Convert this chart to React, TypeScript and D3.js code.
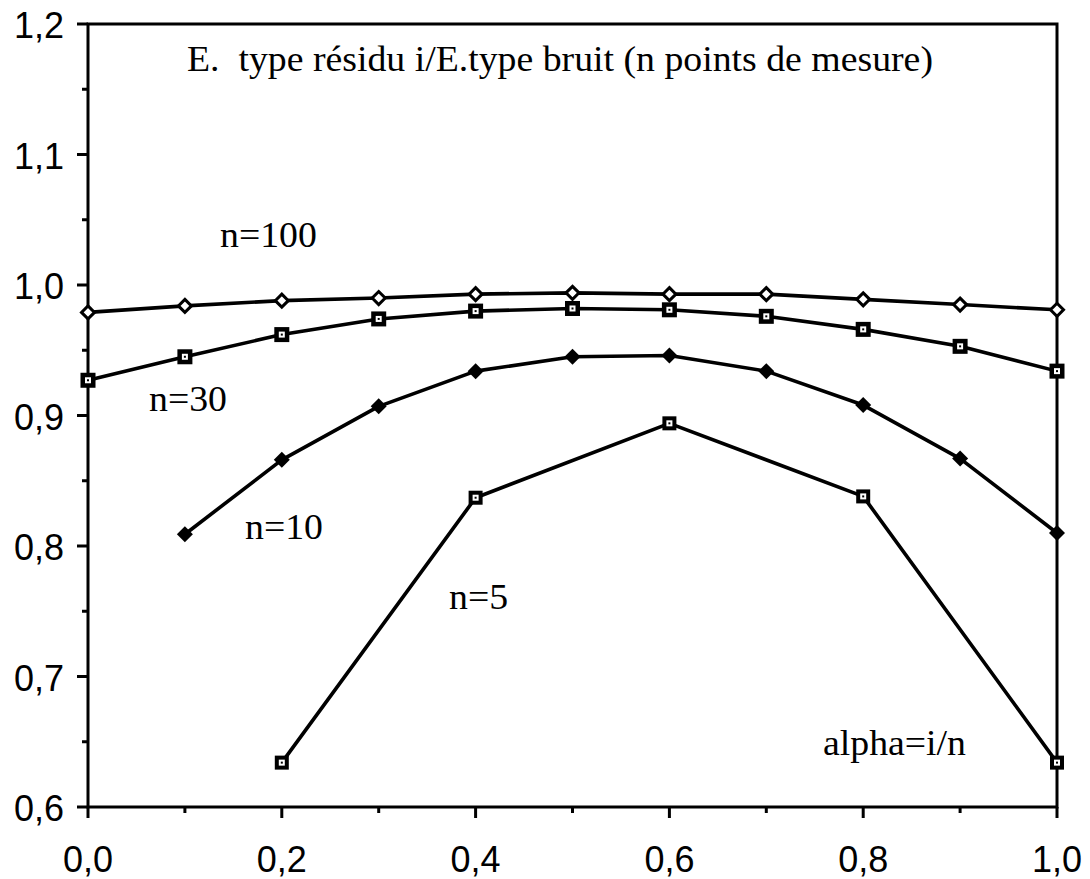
import { useEffect, useRef } from "react"
import * as d3 from "d3"

// alpha = i/n positions
const alpha = [0, 0.1, 0.2, 0.3, 0.4, 0.5, 0.6, 0.7, 0.8, 0.9, 1.0]
const alpha5 = [0.2, 0.4, 0.6, 0.8, 1.0]

const n100 = [0.979, 0.984, 0.988, 0.990, 0.993, 0.994, 0.993, 0.993, 0.989, 0.985, 0.981]
const n30 = [0.927, 0.945, 0.962, 0.974, 0.980, 0.982, 0.981, 0.976, 0.966, 0.953, 0.934]
const n10 = [null, 0.809, 0.866, 0.907, 0.934, 0.945, 0.946, 0.934, 0.908, 0.867, 0.810]
const n5 = [0.634, 0.837, 0.894, 0.838, 0.634]

const xTickLabels = ["0,0", "0,2", "0,4", "0,6", "0,8", "1,0"]
const yTickLabels = ["0,6", "0,7", "0,8", "0,9", "1,0", "1,1", "1,2"]

const title = "E.  type résidu i/E.type bruit (n points de mesure)"

type Pt = { x: number; y: number }

export default function App() {
  const svgRef = useRef<SVGSVGElement>(null)

  useEffect(() => {
    if (!svgRef.current) return
    const svg = d3.select(svgRef.current)
    svg.selectAll("*").remove()

    const xScale = d3.scaleLinear().domain([0, 1]).range([88, 1057])
    const yScale = d3.scaleLinear().domain([0.6, 1.2]).range([807, 24])

    const serif = "'Liberation Serif', 'Times New Roman', serif"
    const sans = "'Liberation Sans', Arial, sans-serif"

    // frame
    svg
      .append("rect")
      .attr("x", xScale(0))
      .attr("y", yScale(1.2))
      .attr("width", xScale(1) - xScale(0))
      .attr("height", yScale(0.6) - yScale(1.2))
      .attr("fill", "none")
      .attr("stroke", "#000")
      .attr("stroke-width", 3)

    // y ticks
    const yTicks = d3.range(0, 13).map((i) => 0.6 + i * 0.05)
    svg
      .append("g")
      .selectAll("line")
      .data(yTicks)
      .enter()
      .append("line")
      .attr("x1", (d, i) => xScale(0) - (i % 2 === 0 ? 11 : 6))
      .attr("x2", xScale(0))
      .attr("y1", (d) => yScale(d))
      .attr("y2", (d) => yScale(d))
      .attr("stroke", "#000")
      .attr("stroke-width", 3)

    svg
      .append("g")
      .selectAll("text")
      .data(yTickLabels)
      .enter()
      .append("text")
      .attr("x", 64)
      .attr("y", (d, i) => yScale(0.6 + i * 0.1) + 14)
      .attr("text-anchor", "end")
      .attr("font-family", sans)
      .attr("font-size", 36)
      .text((d) => d)

    // x ticks
    const xTicks = d3.range(0, 11).map((i) => i * 0.1)
    svg
      .append("g")
      .selectAll("line")
      .data(xTicks)
      .enter()
      .append("line")
      .attr("x1", (d) => xScale(d))
      .attr("x2", (d) => xScale(d))
      .attr("y1", yScale(0.6))
      .attr("y2", (d, i) => yScale(0.6) + (i % 2 === 0 ? 11 : 6))
      .attr("stroke", "#000")
      .attr("stroke-width", 3)

    svg
      .append("g")
      .selectAll("text")
      .data(xTickLabels)
      .enter()
      .append("text")
      .attr("x", (d, i) => xScale(i * 0.2))
      .attr("y", 872)
      .attr("text-anchor", "middle")
      .attr("font-family", sans)
      .attr("font-size", 36)
      .text((d) => d)

    const line = d3
      .line<Pt>()
      .x((d) => xScale(d.x))
      .y((d) => yScale(d.y))

    const toPts = (xs: number[], ys: (number | null)[]): Pt[] =>
      xs.map((x, i) => ({ x, y: ys[i] as number })).filter((d, i) => ys[i] != null)

    const s100 = toPts(alpha, n100)
    const s30 = toPts(alpha, n30)
    const s10 = toPts(alpha, n10)
    const s5 = toPts(alpha5, n5)

    ;[s100, s30, s10, s5].forEach((pts) => {
      svg
        .append("path")
        .datum(pts)
        .attr("fill", "none")
        .attr("stroke", "#000")
        .attr("stroke-width", 3.6)
        .attr("stroke-linejoin", "round")
        .attr("d", line)
    })

    // square markers (n=30, n=5)
    const squares = (pts: Pt[], size: number) => {
      const g = svg.append("g")
      pts.forEach((p) => {
        const cx = xScale(p.x)
        const cy = yScale(p.y)
        g.append("rect")
          .attr("x", cx - size / 2)
          .attr("y", cy - size / 2)
          .attr("width", size)
          .attr("height", size)
          .attr("fill", "#000")
        g.append("rect")
          .attr("x", cx - 3)
          .attr("y", cy - 3)
          .attr("width", 6)
          .attr("height", 6)
          .attr("fill", "#fff")
        g.append("rect")
          .attr("x", cx - 1)
          .attr("y", cy - 1)
          .attr("width", 2)
          .attr("height", 2)
          .attr("fill", "#000")
      })
    }
    squares(s30, 15)
    squares(s5, 14)

    // open diamonds (n=100)
    const diamond = (r: number) => `M0,${-r}L${r},0L0,${r}L${-r},0Z`
    svg
      .append("g")
      .selectAll("path")
      .data(s100)
      .enter()
      .append("path")
      .attr("transform", (d) => `translate(${xScale(d.x)},${yScale(d.y)})`)
      .attr("d", diamond(6.5))
      .attr("fill", "#fff")
      .attr("stroke", "#000")
      .attr("stroke-width", 3)

    // filled diamonds (n=10)
    svg
      .append("g")
      .selectAll("path")
      .data(s10)
      .enter()
      .append("path")
      .attr("transform", (d) => `translate(${xScale(d.x)},${yScale(d.y)})`)
      .attr("d", diamond(8))
      .attr("fill", "#000")

    // labels (serif, slightly wide like the original)
    const labels = [
      { t: title, x: 187, y: 71 },
      { t: "n=100", x: 220, y: 247 },
      { t: "n=30", x: 149, y: 411 },
      { t: "n=10", x: 245, y: 539 },
      { t: "n=5", x: 449, y: 609 },
      { t: "alpha=i/n", x: 823, y: 755 },
    ]
    svg
      .append("g")
      .selectAll("text")
      .data(labels)
      .enter()
      .append("text")
      .attr("transform", (d) => `translate(${d.x},${d.y}) scale(1.08,1)`)
      .attr("font-family", serif)
      .attr("font-size", 35)
      .style("white-space", "pre")
      .text((d) => d.t)
  }, [])

  return (
    <svg
      ref={svgRef}
      width={1090}
      height={879}
      style={{ position: "absolute", left: 0, top: 0, background: "#fff" }}
    />
  )
}
